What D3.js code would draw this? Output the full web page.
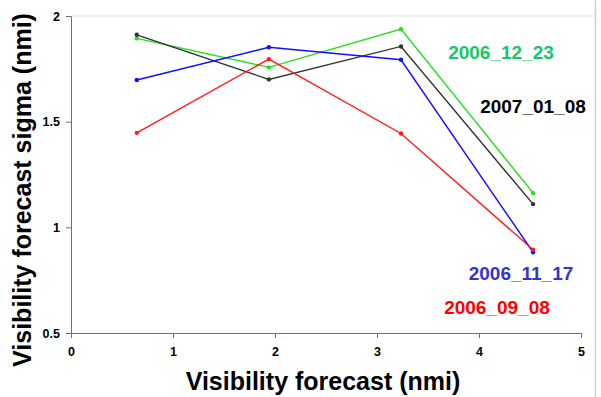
<!DOCTYPE html>
<html>
<head>
<meta charset="utf-8">
<script src="https://cdn.jsdelivr.net/npm/d3@7"></script>
<style>
  body { margin: 0; background: white; }
  svg { font-family: Arial, "Liberation Sans", sans-serif; }
  .axis path, .axis line { stroke: #707070; }
  .axis text { font-weight: bold; font-size: 12.5px; fill: #000; }
</style>
</head>
<body>
<div id="chart"></div>
<script>
// values
var xValues = [0.645, 1.94, 3.235, 4.53];
var s20061223 = [1.894, 1.757, 1.938, 1.163];
var s20070108 = [1.911, 1.700, 1.856, 1.110];
var s20061117 = [1.697, 1.852, 1.793, 0.882];
var s20060908 = [1.447, 1.796, 1.444, 0.894];
var seriesNames = ['2006_12_23', '2007_01_08', '2006_11_17', '2006_09_08'];
var xTicks = [0, 1, 2, 3, 4, 5];
var yTicks = [0.5, 1, 1.5, 2];

var series = [
    { name: seriesNames[0], values: s20061223, line: '#22e01a', label: '#14c86a', lx: 501, ly: 52 },
    { name: seriesNames[1], values: s20070108, line: '#333333', label: '#000000', lx: 533, ly: 106 },
    { name: seriesNames[2], values: s20061117, line: '#1010ff', label: '#3535c8', lx: 521, ly: 273 },
    { name: seriesNames[3], values: s20060908, line: '#ff1a1a', label: '#ff0000', lx: 497, ly: 307 }
];

var W = 601, H = 397;
var margins = { left: 71, right: 20, top: 16, bottom: 64 };

var svg = d3.select('#chart').append('svg').attr('width', W).attr('height', H);

var x = d3.scaleLinear().domain([0, 5]).range([margins.left, 581]);
var y = d3.scaleLinear().domain([0.5, 2]).range([333, margins.top]);

// top grid line and outer frame edge
svg.append('line')
    .attr('x1', x(0)).attr('x2', 595)
    .attr('y1', y(2)).attr('y2', y(2))
    .style('stroke', '#e2e2e2').style('stroke-width', 1);
svg.append('line')
    .attr('x1', 595.5).attr('x2', 595.5)
    .attr('y1', 0).attr('y2', H)
    .style('stroke', '#d0d0d0').style('stroke-width', 1.5);

svg.append('g')
    .attr('class', 'x axis')
    .attr('transform', 'translate(0,' + y(0.5) + ')')
    .call(d3.axisBottom(x).tickValues(xTicks).tickFormat(d3.format('d')).tickSizeOuter(0).tickSize(5).tickPadding(9));

svg.append('g')
    .attr('class', 'y axis')
    .attr('transform', 'translate(' + x(0) + ',0)')
    .call(d3.axisLeft(y).tickValues(yTicks).tickFormat(function(d) { return d; }).tickSizeOuter(0).tickSize(5).tickPadding(6));

var line = d3.line()
    .x(function(d, i) { return x(xValues[i]); })
    .y(function(d) { return y(d); });

series.forEach(function(s) {
    svg.append('path')
        .datum(s.values)
        .attr('d', line)
        .style('fill', 'none')
        .style('stroke', s.line)
        .style('stroke-width', 1.4);
    svg.selectAll(null).data(s.values)
        .enter().append('circle')
        .attr('cx', function(d, i) { return x(xValues[i]); })
        .attr('cy', function(d) { return y(d); })
        .attr('r', 2.2)
        .style('fill', s.line);
});

series.forEach(function(s) {
    svg.append('text')
        .attr('x', s.lx).attr('y', s.ly)
        .attr('dy', '0.35em')
        .style('text-anchor', 'middle')
        .style('font-weight', 'bold').style('font-size', '19px')
        .style('fill', s.label)
        .text(s.name);
});

svg.append('text')
    .attr('x', 323).attr('y', 390)
    .style('text-anchor', 'middle')
    .style('font-weight', 'bold').style('font-size', '25px')
    .text('Visibility forecast (nmi)');

svg.append('text')
    .attr('transform', 'rotate(-90)')
    .attr('x', -190).attr('y', 31)
    .style('text-anchor', 'middle')
    .style('font-weight', 'bold').style('font-size', '25px')
    .text('Visibility forecast sigma (nmi)');
</script>
</body>
</html>
